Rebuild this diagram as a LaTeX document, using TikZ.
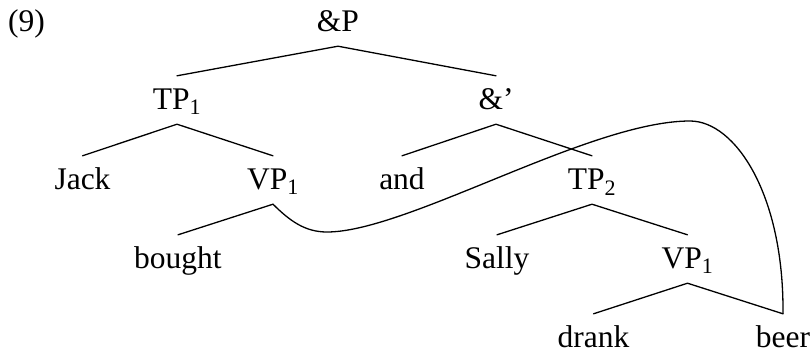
\documentclass[tikz,border=0pt]{standalone}
\usepackage{fontspec}
\setmainfont{Liberation Serif}
\begin{document}
\begin{tikzpicture}[x=1pt,y=-1pt,
  lbl/.style={inner sep=0pt, anchor=base, text height=33pt, text depth=15pt,
    font=\fontsize{31.5pt}{36pt}\selectfont},
  branch/.style={line width=1.3pt, line cap=round, line join=round}]
\useasboundingbox (0,0) rectangle (812,354);
\node[lbl, anchor=base west] (ex) at (8,31) {(9)};
\node[lbl] (andP) at (338,31) {\&P};
\node[lbl] (tp1) at (177,109) {TP\textsubscript{1}};
\node[lbl] (andbar) at (496,109) {\&’};
\node[lbl] (jack) at (82.5,189) {Jack};
\node[lbl] (vpa) at (273,189) {VP\textsubscript{1}};
\node[lbl] (and) at (402,189) {and};
\node[lbl] (tp2) at (592,189) {TP\textsubscript{2}};
\node[lbl] (bought) at (178,268) {bought};
\node[lbl] (sally) at (497,268) {Sally};
\node[lbl] (vpb) at (687.5,268) {VP\textsubscript{1}};
\node[lbl] (drank) at (593.5,347) {drank};
\node[lbl] (beer) at (783,347) {beer};
\draw[branch] (tp1.north) -- (andP.south) -- (andbar.north);
\draw[branch] (jack.north) -- (tp1.south) -- (vpa.north);
\draw[branch] (and.north) -- (andbar.south) -- (tp2.north);
\draw[branch] (bought.north) -- (vpa.south);
\draw[branch] (sally.north) -- (tp2.south) -- (vpb.north);
\draw[branch] (drank.north) -- (vpb.south) -- (beer.north);
\draw[branch] (vpa.south) .. controls (290,221) and (305,232) .. (327,232)
  .. controls (407,232) and (590,121) .. (690,121)
  .. controls (735,121) and (784,194) .. (beer.north);
\end{tikzpicture}
\end{document}
